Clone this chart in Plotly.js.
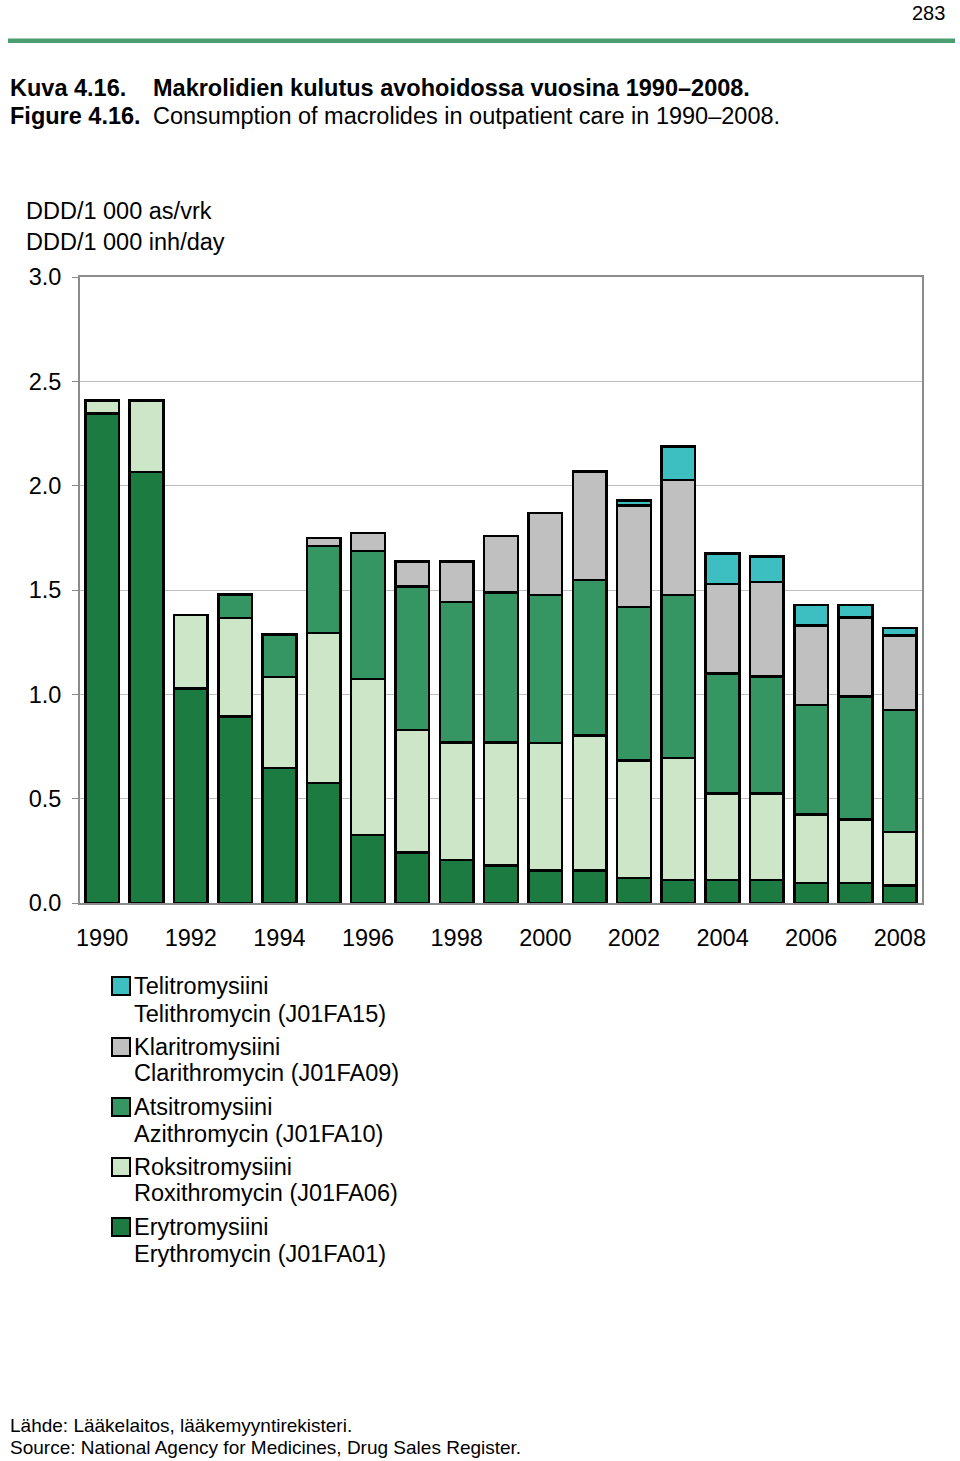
<!DOCTYPE html>
<html>
<head>
<meta charset="utf-8">
<script src="https://cdn.plot.ly/plotly-3.0.1.min.js"></script>
<style>
html,body{margin:0;padding:0;background:#fff;}
#chart{width:960px;height:1461px;}
</style>
</head>
<body>
<div id="chart"></div>
<script>
// ---- Data (DDD/1000 inhabitants/day) ----
const years = [1990,1991,1992,1993,1994,1995,1996,1997,1998,1999,2000,2001,2002,2003,2004,2005,2006,2007,2008];
const erythromycin   = [2.347,2.065,1.027,0.893,0.647,0.575,0.327,0.242,0.207,0.180,0.156,0.156,0.120,0.110,0.110,0.110,0.096,0.096,0.084];
const roxithromycin  = [0.061,0.343,0.354,0.473,0.437,0.719,0.746,0.588,0.563,0.590,0.611,0.647,0.563,0.585,0.414,0.414,0.327,0.303,0.256];
const azithromycin   = [0,0,0,0.113,0.202,0.418,0.615,0.687,0.672,0.718,0.709,0.746,0.735,0.782,0.575,0.562,0.527,0.591,0.586];
const clarithromycin = [0,0,0,0,0,0.037,0.085,0.120,0.195,0.272,0.394,0.518,0.487,0.551,0.430,0.452,0.380,0.378,0.355];
const telithromycin  = [0,0,0,0,0,0,0,0,0,0,0,0,0.024,0.160,0.145,0.123,0.099,0.061,0.037];

const seriesNamesFi = ["Telitromysiini","Klaritromysiini","Atsitromysiini","Roksitromysiini","Erytromysiini"];
const seriesNamesEn = ["Telithromycin (J01FA15)","Clarithromycin (J01FA09)","Azithromycin (J01FA10)","Roxithromycin (J01FA06)","Erythromycin (J01FA01)"];
const yTickVals = [0,0.5,1,1.5,2,2.5,3];
const xTickVals = [1990,1992,1994,1996,1998,2000,2002,2004,2006,2008];

// ---- Styles ----
const colors = {
  tel:"#3dbfc2", cla:"#c0c0c0", azi:"#359664", rox:"#cde6c8", ery:"#1b7b41"
};
const FONT = "Liberation Sans, Arial, Helvetica, sans-serif";
const FS = 23.5;

// layout geometry helpers (pixel -> paper)
const L = 80, R = 38, T = 277, B = 558, W = 960, H = 1461;
const PW = W - L - R, PH = H - T - B;
const px = x => (x - L) / PW;
const py = y => (H - B - y) / PH;

function barTrace(name, vals, color){
  return {
    type:"bar", x:years, y:vals, name:name,
    marker:{color:color, line:{color:"#000", width:2.5}},
    hoverinfo:"x+y+name", showlegend:false
  };
}
const data = [
  barTrace("Erythromycin", erythromycin, colors.ery),
  barTrace("Roxithromycin", roxithromycin, colors.rox),
  barTrace("Azithromycin", azithromycin, colors.azi),
  barTrace("Clarithromycin", clarithromycin, colors.cla),
  barTrace("Telithromycin", telithromycin, colors.tel)
];

const annotations = [];
const shapes = [];
function txt(text, x, y, size, opts){
  annotations.push(Object.assign({
    text:text, xref:"paper", yref:"paper", x:px(x), y:py(y),
    xanchor:"left", yanchor:"middle", showarrow:false,
    font:{family:FONT, size:size, color:"#000"}
  }, opts||{}));
}

// page number & rule
txt("283", 947, 13, 20, {xanchor:"right"});
shapes.push({type:"rect", xref:"paper", yref:"paper", x0:px(8), x1:px(955), y0:py(38.5), y1:py(43), fillcolor:"#4b9e6f", line:{width:0}});

// titles
txt("<b>Kuva 4.16.</b>", 8, 88, FS);
txt("<b>Makrolidien kulutus avohoidossa vuosina 1990–2008.</b>", 151, 88, FS);
txt("<b>Figure 4.16.</b>", 8, 116, FS);
txt("Consumption of macrolides in outpatient care in 1990–2008.", 151, 116, FS);

// y-axis unit
txt("DDD/1 000 as/vrk", 24, 211, FS);
txt("DDD/1 000 inh/day", 24, 242, FS);

// legend (custom, two-line entries)
const legColors = [colors.tel, colors.cla, colors.azi, colors.rox, colors.ery];
const legY = [[986,1014],[1047,1073],[1107,1134],[1167,1193],[1227,1254]];
for (let i=0;i<5;i++){
  const y1 = legY[i][0];
  shapes.push({type:"rect", xref:"paper", yref:"paper",
    x0:px(112), x1:px(130), y0:py(y1+9), y1:py(y1-9),
    fillcolor:legColors[i], line:{color:"#000", width:2}});
  txt(seriesNamesFi[i], 132, y1, FS);
  txt(seriesNamesEn[i], 132, legY[i][1], FS);
}

// source
txt("Lähde: Lääkelaitos, lääkemyyntirekisteri.", 8, 1425, 19);
txt("Source: National Agency for Medicines, Drug Sales Register.", 8, 1447, 19);

const layout = {
  width:W, height:H,
  margin:{l:L, r:R, t:T, b:B, pad:0},
  paper_bgcolor:"#fff", plot_bgcolor:"#fff",
  barmode:"stack", bargap:0.24,
  showlegend:false,
  font:{family:FONT, size:FS, color:"#000"},
  xaxis:{
    range:[1989.5, 2008.5], tickmode:"array", tickvals:xTickVals,
    ticktext:xTickVals.map(String), ticks:"", showgrid:false, zeroline:false,
    showline:true, linecolor:"#8c8c8c", linewidth:2, mirror:true,
    tickfont:{family:FONT, size:FS, color:"#000"}, ticklabelstandoff:13
  },
  yaxis:{
    range:[0,3], tickmode:"array", tickvals:yTickVals,
    ticktext:yTickVals.map(v=>v.toFixed(1)),
    ticks:"outside", ticklen:6, tickcolor:"#8c8c8c", tickwidth:1,
    showgrid:true, gridcolor:"#bdbdbd", gridwidth:1, zeroline:false,
    showline:true, linecolor:"#8c8c8c", linewidth:2, mirror:true,
    tickfont:{family:FONT, size:FS, color:"#000"}, ticklabelstandoff:6
  },
  annotations:annotations,
  shapes:shapes
};

Plotly.newPlot("chart", data, layout, {staticPlot:true, displayModeBar:false});
</script>
</body>
</html>
